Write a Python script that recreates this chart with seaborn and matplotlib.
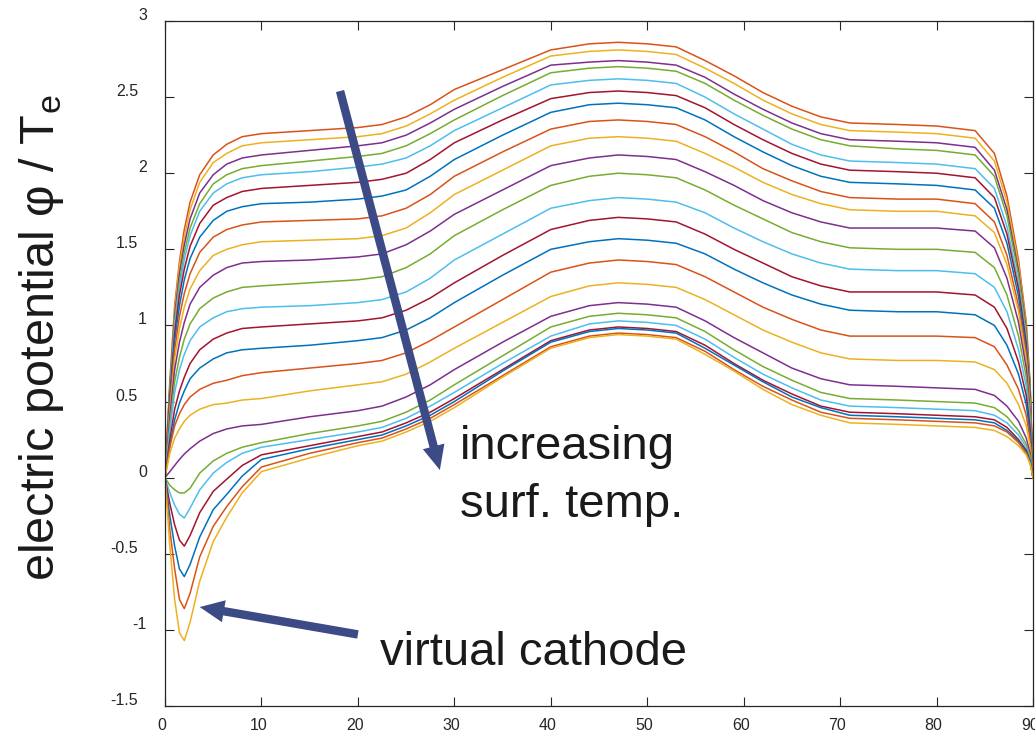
import matplotlib
matplotlib.use("Agg")
import matplotlib.pyplot as plt
from matplotlib.transforms import ScaledTranslation
import seaborn as sns
import pandas as pd

# distance along the gap (x) at which each potential profile is sampled
x_pos = [0, 0.5, 1, 1.5, 2, 2.6, 3.6, 5, 6.4, 8, 10, 15, 20, 22.5, 25, 27.5, 30, 35, 40, 44, 47, 50,
         53, 56, 59, 62, 65, 68, 71, 76, 80, 84, 86, 87.3, 88.5, 89.3, 89.7, 90]

# normalised electric potential profiles, coldest surface first
c01 = [0, 0.63, 1.13, 1.42, 1.63, 1.81, 1.99, 2.12, 2.19, 2.24, 2.26, 2.28, 2.30, 2.32, 2.37, 2.45, 2.55, 2.68, 2.81, 2.85, 2.86, 2.85,
       2.83, 2.74, 2.64, 2.53, 2.44, 2.37, 2.33, 2.32, 2.31, 2.28, 2.13, 1.85, 1.43, 1.02, 0.62, 0]
c02 = [0, 0.62, 1.10, 1.39, 1.58, 1.76, 1.94, 2.07, 2.13, 2.18, 2.20, 2.22, 2.24, 2.26, 2.31, 2.39, 2.48, 2.63, 2.77, 2.80, 2.81, 2.80,
       2.78, 2.69, 2.59, 2.48, 2.39, 2.32, 2.28, 2.27, 2.26, 2.23, 2.08, 1.81, 1.40, 0.99, 0.61, 0]
c03 = [0, 0.59, 1.06, 1.34, 1.53, 1.70, 1.87, 1.99, 2.06, 2.10, 2.12, 2.15, 2.18, 2.20, 2.25, 2.33, 2.42, 2.57, 2.71, 2.73, 2.74, 2.73,
       2.71, 2.63, 2.52, 2.42, 2.33, 2.26, 2.22, 2.21, 2.20, 2.17, 2.02, 1.76, 1.36, 0.97, 0.59, 0]
c04 = [0, 0.57, 1.03, 1.29, 1.48, 1.64, 1.80, 1.93, 1.99, 2.03, 2.05, 2.08, 2.11, 2.13, 2.18, 2.26, 2.35, 2.51, 2.66, 2.69, 2.70, 2.69,
       2.67, 2.59, 2.48, 2.38, 2.29, 2.22, 2.18, 2.16, 2.15, 2.12, 1.98, 1.72, 1.33, 0.95, 0.58, 0]
c05 = [0, 0.56, 1.00, 1.25, 1.43, 1.59, 1.75, 1.87, 1.93, 1.97, 1.99, 2.01, 2.04, 2.06, 2.10, 2.18, 2.28, 2.43, 2.58, 2.61, 2.62, 2.61,
       2.59, 2.50, 2.39, 2.29, 2.19, 2.12, 2.08, 2.07, 2.06, 2.03, 1.90, 1.65, 1.28, 0.91, 0.56, 0]
c06 = [0, 0.53, 0.95, 1.20, 1.37, 1.52, 1.67, 1.79, 1.84, 1.88, 1.90, 1.92, 1.94, 1.96, 2.00, 2.09, 2.20, 2.35, 2.49, 2.53, 2.54, 2.53,
       2.51, 2.43, 2.32, 2.22, 2.13, 2.06, 2.02, 2.01, 2.00, 1.97, 1.84, 1.60, 1.24, 0.88, 0.54, 0]
c07 = [0, 0.50, 0.90, 1.13, 1.30, 1.44, 1.58, 1.69, 1.75, 1.78, 1.80, 1.81, 1.83, 1.85, 1.89, 1.98, 2.09, 2.25, 2.40, 2.45, 2.46, 2.45,
       2.43, 2.35, 2.24, 2.14, 2.05, 1.98, 1.94, 1.93, 1.92, 1.89, 1.77, 1.54, 1.19, 0.84, 0.52, 0]
c08 = [0, 0.47, 0.84, 1.06, 1.21, 1.34, 1.48, 1.58, 1.63, 1.66, 1.68, 1.69, 1.70, 1.72, 1.77, 1.86, 1.98, 2.14, 2.29, 2.34, 2.35, 2.34,
       2.32, 2.24, 2.14, 2.03, 1.95, 1.88, 1.84, 1.83, 1.83, 1.80, 1.68, 1.46, 1.13, 0.81, 0.49, 0]
c09 = [0, 0.43, 0.78, 0.98, 1.12, 1.24, 1.36, 1.46, 1.50, 1.53, 1.55, 1.56, 1.57, 1.59, 1.64, 1.74, 1.86, 2.02, 2.18, 2.23, 2.24, 2.23,
       2.21, 2.13, 2.04, 1.94, 1.86, 1.80, 1.76, 1.75, 1.75, 1.72, 1.61, 1.40, 1.09, 0.77, 0.47, 0]
c10 = [0, 0.40, 0.71, 0.89, 1.02, 1.14, 1.25, 1.33, 1.38, 1.41, 1.42, 1.43, 1.45, 1.47, 1.53, 1.62, 1.73, 1.89, 2.05, 2.10, 2.12, 2.11,
       2.09, 2.01, 1.92, 1.82, 1.74, 1.68, 1.64, 1.64, 1.64, 1.62, 1.51, 1.31, 1.02, 0.72, 0.44, 0]
c11 = [0, 0.35, 0.63, 0.79, 0.91, 1.01, 1.11, 1.18, 1.22, 1.25, 1.26, 1.28, 1.30, 1.32, 1.38, 1.47, 1.59, 1.76, 1.92, 1.98, 2.00, 1.99,
       1.97, 1.89, 1.79, 1.70, 1.61, 1.55, 1.51, 1.50, 1.50, 1.48, 1.38, 1.20, 0.93, 0.66, 0.41, 0]
c12 = [0, 0.31, 0.56, 0.71, 0.81, 0.90, 0.99, 1.05, 1.09, 1.11, 1.12, 1.13, 1.15, 1.17, 1.22, 1.31, 1.43, 1.60, 1.77, 1.82, 1.84, 1.83,
       1.81, 1.74, 1.64, 1.55, 1.47, 1.41, 1.37, 1.36, 1.36, 1.34, 1.25, 1.09, 0.84, 0.60, 0.37, 0]
c13 = [0, 0.25, 0.45, 0.57, 0.66, 0.75, 0.84, 0.91, 0.95, 0.98, 0.99, 1.01, 1.03, 1.05, 1.10, 1.18, 1.28, 1.46, 1.63, 1.69, 1.71, 1.70,
       1.68, 1.60, 1.50, 1.41, 1.32, 1.26, 1.22, 1.22, 1.22, 1.20, 1.12, 0.98, 0.76, 0.54, 0.33, 0]
c14 = [0, 0.21, 0.38, 0.49, 0.57, 0.65, 0.72, 0.78, 0.82, 0.84, 0.85, 0.87, 0.90, 0.92, 0.97, 1.05, 1.15, 1.33, 1.50, 1.55, 1.57, 1.56,
       1.54, 1.47, 1.37, 1.28, 1.20, 1.14, 1.10, 1.09, 1.09, 1.07, 1.00, 0.87, 0.68, 0.48, 0.29, 0]
c15 = [0, 0.20, 0.34, 0.42, 0.48, 0.53, 0.58, 0.62, 0.64, 0.67, 0.69, 0.72, 0.75, 0.77, 0.82, 0.90, 0.99, 1.17, 1.35, 1.41, 1.43, 1.42,
       1.40, 1.32, 1.22, 1.12, 1.04, 0.97, 0.93, 0.93, 0.93, 0.92, 0.86, 0.74, 0.58, 0.41, 0.25, 0]
c16 = [0, 0.16, 0.26, 0.32, 0.37, 0.41, 0.45, 0.48, 0.49, 0.51, 0.52, 0.57, 0.61, 0.63, 0.68, 0.76, 0.85, 1.02, 1.19, 1.26, 1.28, 1.27,
       1.25, 1.17, 1.07, 0.97, 0.89, 0.82, 0.78, 0.77, 0.77, 0.76, 0.71, 0.62, 0.48, 0.34, 0.21, 0]
c17 = [0, 0.04, 0.08, 0.12, 0.155, 0.19, 0.24, 0.29, 0.32, 0.34, 0.35, 0.40, 0.44, 0.47, 0.53, 0.61, 0.71, 0.89, 1.06, 1.13, 1.15, 1.14,
       1.12, 1.03, 0.92, 0.82, 0.72, 0.65, 0.61, 0.60, 0.59, 0.58, 0.54, 0.47, 0.37, 0.26, 0.16, 0]
c18 = [0, -0.05, -0.08, -0.10, -0.10, -0.07, 0.03, 0.11, 0.16, 0.20, 0.23, 0.29, 0.34, 0.37, 0.43, 0.51, 0.61, 0.80, 0.99, 1.06, 1.08, 1.07,
       1.05, 0.96, 0.84, 0.73, 0.64, 0.56, 0.52, 0.51, 0.50, 0.49, 0.46, 0.40, 0.31, 0.22, 0.14, 0]
c19 = [0, -0.10, -0.18, -0.24, -0.265, -0.20, -0.08, 0.03, 0.10, 0.16, 0.20, 0.25, 0.30, 0.33, 0.39, 0.47, 0.56, 0.75, 0.93, 1.01, 1.03, 1.02,
       1.00, 0.91, 0.79, 0.68, 0.59, 0.51, 0.47, 0.46, 0.45, 0.44, 0.41, 0.36, 0.28, 0.20, 0.12, 0]
c20 = [0, -0.17, -0.31, -0.41, -0.45, -0.38, -0.23, -0.09, -0.01, 0.08, 0.15, 0.21, 0.27, 0.30, 0.36, 0.43, 0.52, 0.71, 0.90, 0.97, 0.99, 0.98,
       0.96, 0.87, 0.75, 0.64, 0.55, 0.47, 0.43, 0.42, 0.41, 0.40, 0.38, 0.33, 0.25, 0.18, 0.11, 0]
c21 = [0, -0.25, -0.45, -0.60, -0.65, -0.57, -0.39, -0.21, -0.11, 0.01, 0.12, 0.19, 0.25, 0.28, 0.34, 0.41, 0.50, 0.70, 0.89, 0.96, 0.98, 0.97,
       0.95, 0.85, 0.74, 0.63, 0.53, 0.46, 0.41, 0.40, 0.39, 0.38, 0.36, 0.31, 0.24, 0.17, 0.11, 0]
c22 = [0, -0.34, -0.60, -0.80, -0.86, -0.76, -0.52, -0.32, -0.19, -0.06, 0.07, 0.16, 0.23, 0.26, 0.32, 0.39, 0.48, 0.67, 0.86, 0.93, 0.95, 0.94,
       0.92, 0.83, 0.71, 0.60, 0.51, 0.43, 0.39, 0.38, 0.37, 0.36, 0.34, 0.30, 0.23, 0.16, 0.10, 0]
c23 = [0, -0.45, -0.80, -1.02, -1.07, -0.95, -0.68, -0.42, -0.26, -0.10, 0.04, 0.13, 0.21, 0.24, 0.30, 0.37, 0.46, 0.66, 0.85, 0.92, 0.94, 0.93,
       0.91, 0.81, 0.70, 0.58, 0.48, 0.41, 0.36, 0.35, 0.34, 0.33, 0.31, 0.27, 0.21, 0.15, 0.09, 0]

profiles = [c01, c02, c03, c04, c05, c06, c07, c08, c09, c10, c11, c12,
            c13, c14, c15, c16, c17, c18, c19, c20, c21, c22, c23]
assert all(len(p) == len(x_pos) for p in profiles)

# MATLAB default colour order; the first profile takes its second entry
color_order = ['#0072BD', '#D95319', '#EDB120', '#7E2F8E', '#77AC30', '#4DBEEE', '#A2142F']

x_ticks = [0, 10, 20, 30, 40, 50, 60, 70, 80, 90]
y_ticks = [-1.5, -1, -0.5, 0, 0.5, 1, 1.5, 2, 2.5, 3]
y_tick_labels = ['-1.5', '-1', '-0.5', '0', '0.5', '1', '1.5', '2', '2.5', '3']

arrow_color = '#3C4A86'
text_color = '#1a1a1a'

sns.set_style("ticks")
plt.rcParams['font.family'] = ['Liberation Sans', 'DejaVu Sans']
plt.rcParams['mathtext.fontset'] = 'custom'
plt.rcParams['mathtext.rm'] = 'Liberation Sans'
plt.rcParams['mathtext.it'] = 'Liberation Sans:italic'
plt.rcParams['axes.unicode_minus'] = False

rows = []
for k, prof in enumerate(profiles):
    for xv, yv in zip(x_pos, prof):
        rows.append({"x": xv, "phi": yv, "curve": k})
df = pd.DataFrame(rows)
palette = {k: color_order[(k + 1) % 7] for k in range(len(profiles))}

fig = plt.figure(figsize=(10.35, 7.35), dpi=100)
ax = fig.add_axes([165 / 1035, 1 - 706 / 735, 868 / 1035, 685 / 735])

sns.lineplot(data=df, x="x", y="phi", hue="curve", palette=palette, estimator=None,
             sort=False, legend=False, linewidth=1.1, ax=ax)

ax.set_xlim(0, 90)
ax.set_ylim(-1.5, 3)
ax.set_xticks(x_ticks)
ax.set_xticklabels([str(t) for t in x_ticks])
ax.set_yticks(y_ticks)
ax.set_yticklabels(y_tick_labels)
ax.set_xlabel("")
ax.set_ylabel("")

for sp in ax.spines.values():
    sp.set_visible(True)
    sp.set_color('#262626')
    sp.set_linewidth(0.9)
ax.tick_params(direction='in', length=6.5, width=0.8, colors='#262626',
               top=True, right=True, labelsize=11.5, labelcolor='#262626')
ax.tick_params(axis='y', pad=13)
ax.tick_params(axis='x', pad=9)

# tick labels sit slightly above / left of their ticks; fractional ones a bit further left
for lab in ax.get_yticklabels():
    dx = -0.09 if '.' in lab.get_text() else 0.0
    lab.set_transform(lab.get_transform() + ScaledTranslation(dx, 0.07, fig.dpi_scale_trans))
for lab in ax.get_xticklabels():
    lab.set_transform(lab.get_transform() + ScaledTranslation(-0.03, 0, fig.dpi_scale_trans))

fig.text(42 / 1035, 1 - 338 / 735, "electric potential φ / T$_{\\mathrm{e}}$",
         rotation=90, ha='center', va='center', fontsize=35, color=text_color)

# annotation arrows and captions
arrow_style = "simple,head_length=1.1,head_width=1.0,tail_width=0.38"
ax.annotate("", xy=(28.5, 0.05), xytext=(18.15, 2.54),
            arrowprops=dict(arrowstyle=arrow_style, color=arrow_color, lw=0,
                            mutation_scale=16, shrinkA=0, shrinkB=0))
ax.annotate("", xy=(3.6, -0.85), xytext=(20.0, -1.03),
            arrowprops=dict(arrowstyle=arrow_style, color=arrow_color, lw=0,
                            mutation_scale=16, shrinkA=0, shrinkB=0))

ax.text(30.6, 0.12, "increasing", fontsize=34, color=text_color, ha='left', va='baseline')
ax.text(30.6, -0.26, "surf. temp.", fontsize=34, color=text_color, ha='left', va='baseline')
ax.text(22.3, -1.23, "virtual cathode", fontsize=34, color=text_color, ha='left', va='baseline')

fig.savefig("out.png", dpi=100, facecolor='white')
